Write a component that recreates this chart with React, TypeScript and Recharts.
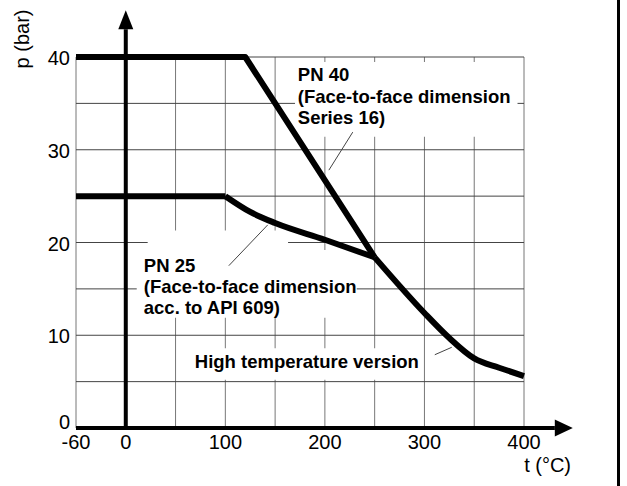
import React from 'react';
import {
  LineChart,
  Line,
  XAxis,
  YAxis,
  CartesianGrid,
  ReferenceLine,
  ReferenceArea,
  ReferenceDot,
  Label,
} from 'recharts';

// temperature t (°C) vs pressure p (bar)
const pn40 = [
  { x: -50, y: 40 },
  { x: 120, y: 40 },
  { x: 250, y: 18.4 },
];
const pn25Flat = [
  { x: -50, y: 25 },
  { x: 100, y: 25 },
];
const pn25Curve = [
  { x: 100, y: 25 },
  { x: 125, y: 23.3 },
  { x: 150, y: 22.1 },
  { x: 200, y: 20.3 },
  { x: 250, y: 18.4 },
];
const highTemp = [
  { x: 250, y: 18.4 },
  { x: 300, y: 12.4 },
  { x: 325, y: 9.7 },
  { x: 350, y: 7.5 },
  { x: 375, y: 6.5 },
  { x: 400, y: 5.6 },
];

const xTicks = [-50, 0, 100, 200, 300, 400];
const xTickLabels = ['-60', '0', '100', '200', '300', '400'];
const yTicks = [0, 10, 20, 30, 40];
const xGrid = [-50, 0, 50, 100, 150, 200, 250, 300, 350, 400];
const yGrid = [0, 5, 10, 15, 20, 25, 30, 35, 40];

const notes = [
  { x: 172.8, y: 37.36, lines: ['PN 40', '(Face-to-face dimension', 'Series 16)'] },
  { x: 18.1, y: 16.85, lines: ['PN 25', '(Face-to-face dimension', 'acc. to API 609)'] },
  { x: 69.3, y: 6.44, lines: ['High temperature version'] },
];
// white boxes behind the notes (hide grid)
const noteBoxes = [
  { x1: 170, x2: 393.5, y1: 31.4, y2: 39.45 },
  { x1: 22, x2: 163, y1: 19.2, y2: 21.3 },
  { x1: 11, x2: 232, y1: 11.9, y2: 19.2 },
  { x1: 64.3, x2: 295.3, y1: 5.2, y2: 8.6 },
];
const leaders = [
  [{ x: 228, y: 31.9 }, { x: 204, y: 27.8 }],
  [{ x: 103.5, y: 17.5 }, { x: 142.6, y: 21.9 }],
  [{ x: 310.4, y: 7.9 }, { x: 327.4, y: 8.7 }],
];

const FONT = "'Liberation Sans', Arial, Helvetica, sans-serif";

const XTick = (props: any) => {
  const { x, y, payload } = props;
  const i = xTicks.indexOf(payload.value);
  return (
    <text x={x} y={y + 21} textAnchor="middle" fontFamily={FONT} fontSize={20} fill="#000">
      {xTickLabels[i]}
    </text>
  );
};

const YTick = (props: any) => {
  const { x, y, payload } = props;
  return (
    <text x={x} y={y + (payload.value === 0 ? 1 : 8)} textAnchor="end" fontFamily={FONT} fontSize={20} fill="#000">
      {payload.value}
    </text>
  );
};

const NoteText = (lines: string[]) => (p: any) => (
  <text x={p.cx} y={p.cy} fontFamily={FONT} fontSize={18.5} fontWeight="bold" fill="#000">
    {lines.map((l, i) => (
      <tspan key={i} x={p.cx} dy={i === 0 ? 0 : 21.3}>
        {l}
      </tspan>
    ))}
  </text>
);

const ArrowUp = (p: any) => (
  <polygon points={`${p.cx},${p.cy} ${p.cx - 7.5},${p.cy + 19} ${p.cx + 7.5},${p.cy + 19}`} fill="#000" />
);
const ArrowRight = (p: any) => (
  <polygon points={`${p.cx},${p.cy} ${p.cx - 18},${p.cy - 8.5} ${p.cx - 18},${p.cy + 8.5}`} fill="#000" />
);

export default function App() {
  return (
    <div style={{ position: 'absolute', left: 0, top: 0, width: 627, height: 486, background: '#fff' }}>
      <LineChart width={627} height={486} margin={{ top: 57, right: 103, bottom: 28, left: 36 }}>
        <CartesianGrid horizontal={false} verticalValues={xGrid} stroke="#777" strokeWidth={1} />
        <CartesianGrid vertical={false} horizontalValues={yGrid} stroke="#444" strokeWidth={1} />
        <XAxis
          type="number"
          dataKey="x"
          domain={[-50, 400]}
          ticks={xTicks}
          axisLine={false}
          tickLine={false}
          tickSize={0}
          tickMargin={0}
          height={30}
          tick={XTick}
          interval={0}
        >
          <Label
            content={(p: any) => (
              <text
                x={p.viewBox.x + p.viewBox.width + 47}
                y={p.viewBox.y + 44}
                textAnchor="end"
                fontFamily={FONT}
                fontSize={20}
                fill="#000"
              >
                t (°C)
              </text>
            )}
          />
        </XAxis>
        <YAxis
          type="number"
          dataKey="y"
          domain={[0, 40]}
          ticks={yTicks}
          axisLine={false}
          tickLine={false}
          tickSize={0}
          tickMargin={6}
          width={40}
          tick={YTick}
          interval={0}
        >
          <Label
            content={(p: any) => {
              const cx = p.viewBox.x - 14;
              const cy = p.viewBox.y - 18;
              return (
                <text
                  x={cx}
                  y={cy}
                  transform={`rotate(-90 ${cx} ${cy})`}
                  textAnchor="middle"
                  dominantBaseline="central"
                  fontFamily={FONT}
                  fontSize={20}
                  fill="#000"
                >
                  p (bar)
                </text>
              );
            }}
          />
        </YAxis>

        {noteBoxes.map((b, i) => (
          <ReferenceArea key={'b' + i} {...b} fill="#fff" fillOpacity={1} stroke="none" ifOverflow="visible" />
        ))}

        <ReferenceLine segment={[{ x: -50, y: 0 }, { x: 431, y: 0 }]} stroke="#000" strokeWidth={4} ifOverflow="visible" />
        <ReferenceLine segment={[{ x: 0, y: 0 }, { x: 0, y: 43 }]} stroke="#000" strokeWidth={4} ifOverflow="visible" />
        <ReferenceDot x={0} y={45.05} ifOverflow="visible" shape={ArrowUp} />
        <ReferenceDot x={449} y={0} ifOverflow="visible" shape={ArrowRight} />

        {leaders.map((s, i) => (
          <ReferenceLine key={'l' + i} segment={s} stroke="#444" strokeWidth={1} ifOverflow="visible" />
        ))}

        <Line data={pn40} dataKey="y" type="linear" stroke="#000" strokeWidth={6} dot={false} isAnimationActive={false} strokeLinejoin="round" />
        <Line data={pn25Flat} dataKey="y" type="linear" stroke="#000" strokeWidth={6} dot={false} isAnimationActive={false} />
        <Line data={pn25Curve} dataKey="y" type="monotone" stroke="#000" strokeWidth={6} dot={false} isAnimationActive={false} strokeLinejoin="round" />
        <Line data={highTemp} dataKey="y" type="monotone" stroke="#000" strokeWidth={6} dot={false} isAnimationActive={false} />

        {notes.map((n, i) => (
          <ReferenceDot key={'n' + i} x={n.x} y={n.y} ifOverflow="visible" shape={NoteText(n.lines)} />
        ))}
      </LineChart>
      <div style={{ position: 'absolute', left: 617, top: 0, width: 3, height: 486, background: '#000' }} />
    </div>
  );
}
